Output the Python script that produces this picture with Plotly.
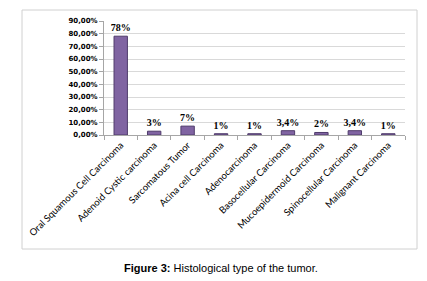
import plotly.graph_objects as go

categories = ["Oral Squamous Cell Carcinoma", "Adenoid Cystic carcinoma", "Sarcomatous Tumor",
              "Acina cell Carcinoma", "Adenocarcinoma", "Basocellular Carcinoma",
              "Mucoepidermoid Carcinoma", "Spinocellular Carcinoma", "Malignant Carcinoma"]
values = [78, 3, 7, 1, 1, 3.4, 2, 3.4, 1]
labels = ["78%", "3%", "7%", "1%", "1%", "3,4%", "2%", "3,4%", "1%"]
ytick_vals = [0, 10, 20, 30, 40, 50, 60, 70, 80, 90]
ytick_text = ["0,00%", "10,00%", "20,00%", "30,00%", "40,00%", "50,00%",
              "60,00%", "70,00%", "80,00%", "90,00%"]

L, R, T, B = 104, 22, 21, 146
W, H = 427, 281
pw, ph = W - L - R, H - T - B

def px_x(x):
    return (x - L) / pw

def px_y(y):
    return (H - B - y) / ph

fig = go.Figure(go.Bar(
    x=categories, y=values, text=labels, textposition="outside",
    constraintext="none",
    textfont=dict(family="Liberation Serif", size=10, color="#000000", weight="bold"),
    marker=dict(color="#8064A2", line=dict(color="#4F3B6B", width=1)),
    width=0.4, cliponaxis=False,
))

fig.update_layout(
    width=W, height=H, margin=dict(l=L, r=R, t=T, b=B),
    paper_bgcolor="white", plot_bgcolor="white",
    showlegend=False,
    xaxis=dict(tickangle=-45, tickfont=dict(family="Lato", size=9.5, color="#000000"),
               showline=True, linecolor="#A6A6A6", linewidth=1,
               ticks="outside", tickson="boundaries", ticklen=4, tickcolor="#A6A6A6",
               showgrid=False),
    yaxis=dict(range=[0, 90], tickvals=ytick_vals, ticktext=ytick_text,
               tickfont=dict(family="DejaVu Sans", size=7, color="#000000", weight="bold"),
               showline=True, linecolor="#A6A6A6", linewidth=1,
               ticks="outside", ticklen=4, tickcolor="#A6A6A6",
               showgrid=True, gridcolor="#D9D9D9", gridwidth=1, zeroline=False),
    shapes=[dict(type="rect", xref="paper", yref="paper",
                 x0=px_x(22), x1=px_x(417), y0=px_y(249), y1=px_y(10),
                 line=dict(color="#D0D0D0", width=1), fillcolor="rgba(0,0,0,0)", layer="below")],
    annotations=[dict(xref="paper", yref="paper", x=px_x(221), y=px_y(268),
                      text="<b>Figure 3:</b> Histological type of the tumor.",
                      showarrow=False, xanchor="center", yanchor="middle",
                      font=dict(family="Liberation Sans", size=11, color="#000000"))],
)

fig.write_html("out.html")
